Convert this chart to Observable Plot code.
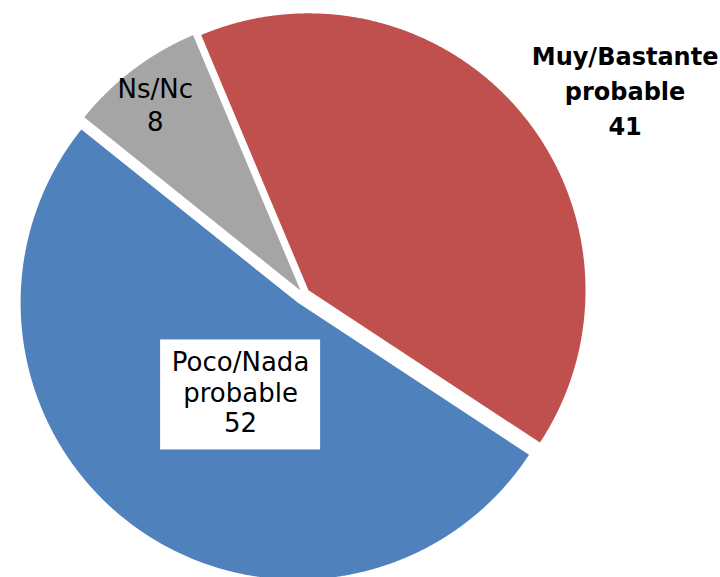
<!DOCTYPE html>
<html><head><meta charset="utf-8">
<script src="https://cdn.jsdelivr.net/npm/d3@7"></script>
<script src="https://cdn.jsdelivr.net/npm/@observablehq/plot@0.6"></script>
<style>html,body{margin:0;padding:0;background:#fff;overflow:hidden}</style>
</head><body><div id="chart"></div>
<script>
// ---- data ----
const categories = ["Muy/Bastante probable", "Poco/Nada probable", "Ns/Nc"];
const labelLines = ["Muy/Bastante\nprobable", "Poco/Nada\nprobable", "Ns/Nc"];
const values = [41, 52, 8];
const colors = ["#C0504D", "#4F81BD", "#A5A5A5"];

// ---- layout (pixels) ----
const W = 720, H = 577, R = 277, CX = 303, CY = 294;
const startDeg = -22.8;
const explodePx = [6.5, 10, 5];
const labelRadius = [1.35, 0.43, 0.87];
const labelNudge = [[29, 37], [13, -4], [0, 6]];

const total = d3.sum(values);
const rad = d => d * Math.PI / 180;
let acc = 0;
const slices = values.map((v, i) => {
  const a0 = startDeg + acc / total * 360;
  acc += v;
  const a1 = startDeg + acc / total * 360;
  const m = (a0 + a1) / 2;
  const ox = explodePx[i] / R * Math.sin(rad(m));
  const oy = -explodePx[i] / R * Math.cos(rad(m));
  return {cat: categories[i], value: v, a0, a1, m, ox, oy, i};
});

const pts = [];
for (const s of slices) {
  pts.push({cat: s.cat, x: s.ox, y: s.oy});
  const n = Math.ceil((s.a1 - s.a0) / 0.25);
  for (let k = 0; k <= n; k++) {
    const a = rad(s.a0 + (s.a1 - s.a0) * k / n);
    pts.push({cat: s.cat, x: s.ox + Math.sin(a), y: s.oy - Math.cos(a)});
  }
}

const labels = slices.map(s => {
  const r = labelRadius[s.i];
  const [dx, dy] = labelNudge[s.i];
  return {
    cat: s.cat,
    text: labelLines[s.i] + "\n" + s.value,
    x: s.ox + r * Math.sin(rad(s.m)) + dx / R,
    y: s.oy - r * Math.cos(rad(s.m)) + dy / R
  };
});
const boxHalfW = 80 / R, boxHalfH = 55 / R;

const font = "DejaVu Sans";
const plot = Plot.plot({
  width: W, height: H,
  margin: 0,
  x: {type: "linear", domain: [-CX / R, (W - CX) / R], range: [0, W], axis: null},
  y: {type: "linear", domain: [-CY / R, (H - CY) / R], range: [0, H], axis: null},
  color: {domain: categories, range: colors},
  style: {background: "#fff", fontFamily: font},
  marks: [
    Plot.line(pts, {x: "x", y: "y", z: "cat", fill: "cat", stroke: "none", curve: "linear"}),
    Plot.rect(labels.filter(d => d.cat === categories[1]), {
      x1: d => d.x - boxHalfW, x2: d => d.x + boxHalfW,
      y1: d => d.y - boxHalfH, y2: d => d.y + boxHalfH,
      fill: "#fff"
    }),
    Plot.text(labels.filter(d => d.cat === categories[0]), {
      x: "x", y: "y", text: "text", fontSize: 24, fontWeight: "bold",
      lineHeight: 1.46, fill: "#000", fontFamily: font, ariaLabel: "lbl-bold"
    }),
    Plot.text(labels.filter(d => d.cat === categories[1]), {
      x: "x", y: "y", dy: -3, text: "text", fontSize: 26,
      lineHeight: 1.165, fill: "#000", fontFamily: font, ariaLabel: "lbl-reg"
    }),
    Plot.text(labels.filter(d => d.cat === categories[2]), {
      x: "x", y: "y", text: "text", fontSize: 26,
      lineHeight: 1.24, fill: "#000", fontFamily: font, ariaLabel: "lbl-reg"
    })
  ]
});
d3.select(plot).selectAll('g[aria-label="lbl-reg"] text').style("letter-spacing", "0.5px");
document.getElementById("chart").appendChild(plot);
</script>
</body></html>
